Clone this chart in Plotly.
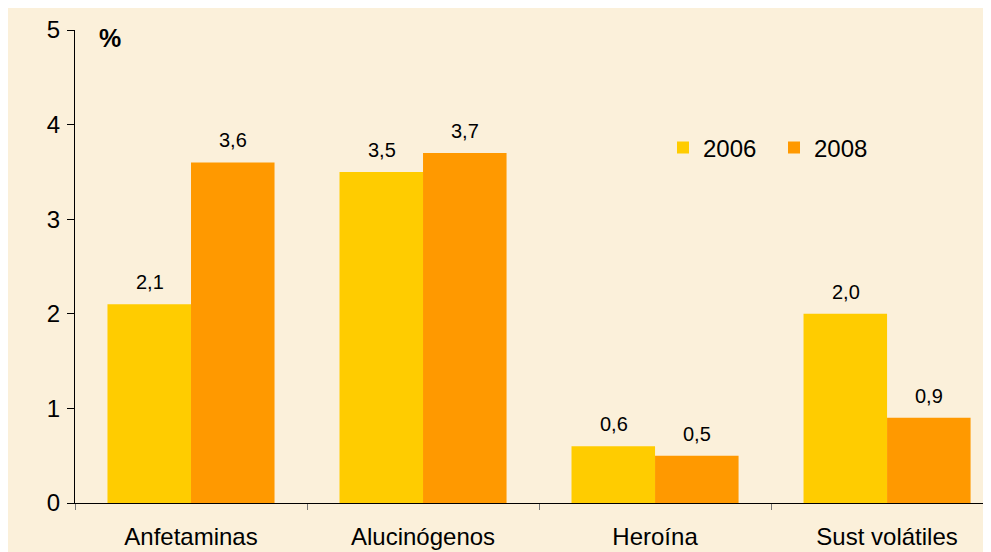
import plotly.graph_objects as go

categories = ["Anfetaminas", "Alucinógenos", "Heroína", "Sust volátiles"]
years = ["2006", "2008"]
values_2006 = [2.1, 3.5, 0.6, 2.0]
values_2008 = [3.6, 3.7, 0.5, 0.9]
colors = ["#FFCC00", "#FF9900"]
y_ticks = [0, 1, 2, 3, 4, 5]

FONT = "Liberation Sans"
BG = "#FBF0DA"

def fmt(v):
    return f"{v:.1f}".replace(".", ",")

fig = go.Figure()
for name, vals, col in zip(years, [values_2006, values_2008], colors):
    fig.add_trace(go.Bar(x=categories, y=vals, name=name, marker_color=col,
                         marker_line_width=0))

annotations = []
for off, vals in zip([-41.5, 41.5], [values_2006, values_2008]):
    for c, v in zip(categories, vals):
        annotations.append(dict(x=c, y=v, text=fmt(v), xref="x", yref="y",
                                showarrow=False, xshift=off, yanchor="bottom",
                                yshift=9, font=dict(size=20, color="black", family=FONT)))
annotations.append(dict(x=(110 - 75) / 916, y=(503 - 38) / 473, xref="paper", yref="paper",
                        text="<b>%</b>", showarrow=False, xanchor="center", yanchor="middle",
                        font=dict(size=25, color="black", family=FONT)))

fig.update_layout(
    width=983, height=544,
    margin=dict(l=67, r=0, t=22, b=49),
    paper_bgcolor=BG, plot_bgcolor=BG,
    barmode="group", bargap=0.28, bargroupgap=0,
    font=dict(family=FONT, size=22, color="black"),
    showlegend=True,
    legend=dict(orientation="h", x=(663 - 75) / 916, y=(503 - 148) / 473,
                xanchor="left", yanchor="middle",
                bgcolor="rgba(0,0,0,0)", font=dict(size=24, family=FONT),
                entrywidth=66, entrywidthmode="pixels", traceorder="normal"),
    annotations=annotations,
    xaxis=dict(range=[-0.5, 3.448], showline=True, linecolor="black", linewidth=1,
               ticks="outside", tickson="boundaries", ticklen=6, tickcolor="#777",
               showgrid=False, tickfont=dict(size=24), ticklabelstandoff=12,
               automargin=False),
    yaxis=dict(range=[0, 5], tickvals=y_ticks, showline=True, linecolor="black",
               linewidth=1, ticks="outside", ticklen=7, tickcolor="black",
               showgrid=False, zeroline=False, tickfont=dict(size=24),
               ticklabelstandoff=2, automargin=False),
)

fig.write_html("out.html")
